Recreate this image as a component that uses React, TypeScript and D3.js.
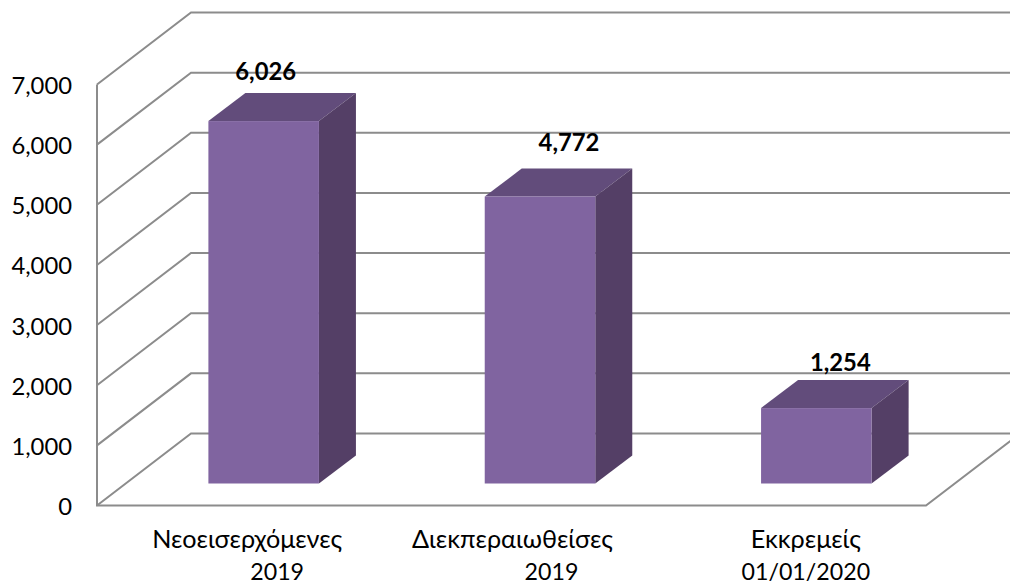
import { useMemo } from 'react'
import * as d3 from 'd3'

const categories = ['Νεοεισερχόμενες', 'Διεκπεραιωθείσες', 'Εκκρεμείς']
const subLabels = ['2019', '2019', '01/01/2020']
const values = [6026, 4772, 1254]
const yTicks = [0, 1000, 2000, 3000, 4000, 5000, 6000, 7000]

const width = 1010
const height = 584
const front = { left: 97, right: 926, bottom: 505.5, top: 84.5 }
const depth = { dx: 94, dy: -72 }
const barDepth = { dx: 37, dy: -28 }
const gridColor = '#8c8c8c'
const font = 'Lato, "Open Sans", sans-serif'

// labels were dragged by hand in the original so they do not sit centred on the bars
const labelNudge = [{ x: 2, y: -13 }, { x: 29, y: -17 }, { x: 24, y: -9 }]
const catNudge = [12, 1, 18]
const subNudge = [42, 40, 18]

export default function App() {
    const x = useMemo(() => d3.scaleBand<string>()
        .domain(categories)
        .range([front.left, front.right])
        .paddingInner(0.6)
        .paddingOuter(0.3), [])
    const y = useMemo(() => d3.scaleLinear()
        .domain([0, 7000])
        .range([front.bottom, front.top]), [])

    const fmt = d3.format(',')
    const offX = (depth.dx - barDepth.dx) / 2
    const offY = (depth.dy - barDepth.dy) / 2

    const poly = (pts: [number, number][]) => d3.line()(pts) + 'Z'

    return (
        <svg width={width} height={height} style={{ position: 'absolute', left: 0, top: 0, background: '#fff' }}>
            {/* wall and back grid lines */}
            {yTicks.map(t => (
                <path
                    key={t}
                    d={d3.line()([
                        [front.left, y(t)],
                        [front.left + depth.dx, y(t) + depth.dy],
                        [width, y(t) + depth.dy],
                    ]) || ''}
                    fill="none"
                    stroke={gridColor}
                    strokeWidth={2}
                />
            ))}
            {/* floor and front axis */}
            <path
                d={d3.line()([
                    [front.left, front.top],
                    [front.left, front.bottom],
                    [front.right, front.bottom],
                    [front.right + depth.dx, front.bottom + depth.dy],
                ]) || ''}
                fill="none"
                stroke={gridColor}
                strokeWidth={2}
            />

            {yTicks.map(t => (
                <text key={t} x={72} y={y(t) + 9.5} textAnchor="end" fontFamily={font} fontSize={23.8} fill="#000">
                    {fmt(t)}
                </text>
            ))}

            {categories.map((c, i) => {
                const x0 = (x(c) || 0) + offX
                const x1 = x0 + x.bandwidth()
                const y0 = y(0) + offY
                const yTop = y(values[i]) + offY
                return (
                    <g key={c}>
                        <path d={poly([[x0, yTop], [x1, yTop], [x1 + barDepth.dx, yTop + barDepth.dy], [x0 + barDepth.dx, yTop + barDepth.dy]])} fill="#624c7b" />
                        <path d={poly([[x1, yTop], [x1 + barDepth.dx, yTop + barDepth.dy], [x1 + barDepth.dx, y0 + barDepth.dy], [x1, y0]])} fill="#543f66" />
                        <rect x={x0} y={yTop} width={x.bandwidth()} height={y0 - yTop} fill="#8064a0" />
                        <text
                            x={x0 + x.bandwidth() / 2 + labelNudge[i].x}
                            y={yTop + barDepth.dy + labelNudge[i].y}
                            textAnchor="middle"
                            fontFamily={font}
                            fontWeight="bold"
                            fontSize={23.8}
                            fill="#000"
                        >
                            {fmt(values[i])}
                        </text>
                        <text x={(x(c) || 0) + x.bandwidth() / 2 + catNudge[i]} y={548} textAnchor="middle" fontFamily={font} fontSize={25.2} fill="#000">{c}</text>
                        <text x={(x(c) || 0) + x.bandwidth() / 2 + subNudge[i]} y={580} textAnchor="middle" fontFamily={font} fontSize={23.2} fill="#000">{subLabels[i]}</text>
                    </g>
                )
            })}
        </svg>
    )
}
